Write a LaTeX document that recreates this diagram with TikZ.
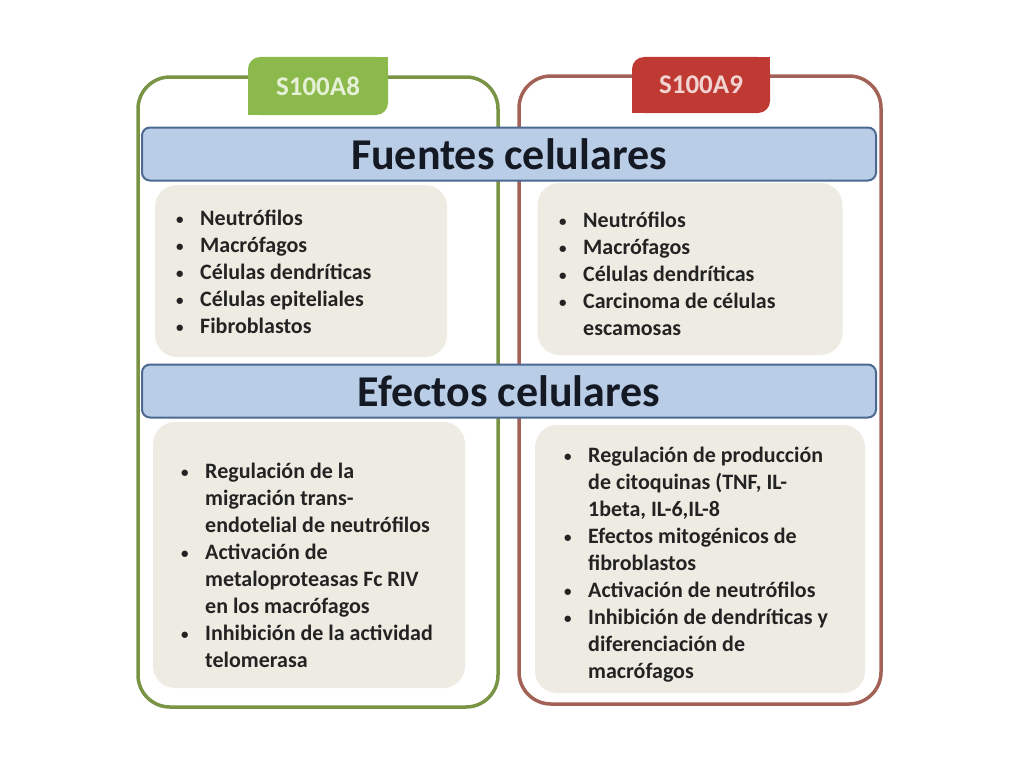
\documentclass[tikz,border=0pt]{standalone}
\usepackage{fontspec}
\setmainfont{Carlito}

\definecolor{greenline}{RGB}{122,148,70}
\definecolor{redline}{RGB}{163,98,88}
\definecolor{tabgreen}{RGB}{140,185,75}
\definecolor{tabred}{RGB}{192,58,52}
\definecolor{barfill}{RGB}{185,205,230}
\definecolor{barline}{RGB}{75,105,145}
\definecolor{cardfill}{RGB}{238,236,226}
\definecolor{titletext}{RGB}{20,25,35}
\definecolor{bodytext}{RGB}{35,35,35}

\newcommand{\bu}{\makebox[24pt][l]{\raisebox{1pt}{\fontsize{15}{15}\selectfont\textbullet}}}
\newcommand{\ind}{\hspace*{24pt}}

\begin{document}
\begin{tikzpicture}[x=1pt,y=-1pt,
  outerbox/.style={draw=#1,line width=3.5pt,rounded corners=32pt,fill=white,inner sep=0pt},
  tab/.style={fill=#1,rounded corners=12pt,inner sep=0pt,font=\fontsize{27}{30}\selectfont\bfseries},
  bar/.style={draw=barline,fill=barfill,line width=2pt,rounded corners=8pt,minimum width=734pt,minimum height=53pt,inner sep=0pt,text=titletext,font=\fontsize{44}{50}\selectfont\bfseries},
  card/.style={fill=cardfill,rounded corners=22pt,inner sep=0pt},
  list/.style={anchor=base west,align=left,inner sep=0pt,text=bodytext,font=\fontsize{22}{27}\selectfont\bfseries}]

  \useasboundingbox[fill=white] (0,0) rectangle (1024,768);

  % Specification of frames (position, etc.)
  \node[outerbox=greenline,minimum width=360pt,minimum height=630pt] (boxA) at (318,392) {};
  \node[outerbox=redline,minimum width=362pt,minimum height=628pt] (boxB) at (700,390) {};

  % Tabs
  \node[tab=tabgreen,text=white!78!tabgreen,minimum width=140pt,minimum height=58pt] (tabA) at (318,86) {S100A8};
  \fill[tabgreen] (tabA.north east) rectangle ++(-14,14);
  \fill[tabgreen] (tabA.south west) rectangle ++(14,-14);
  \node[tab=tabred,text=white!78!tabred,minimum width=138pt,minimum height=56pt] (tabB) at (701,85) {S100A9};
  \fill[tabred] (tabB.north east) rectangle ++(-14,14);
  \fill[tabred] (tabB.south west) rectangle ++(14,-14);

  % Bars
  \node[bar] (srcbar) at (509,154) {Fuentes celulares};
  \node[bar] (effbar) at (509,391) {Efectos celulares};

  % Cards
  \node[card,minimum width=292pt,minimum height=172pt] (srcA) at (301,271) {};
  \node[card,minimum width=305pt,minimum height=172pt] (srcB) at (690,269) {};
  \node[card,minimum width=312pt,minimum height=266pt] (effA) at (309,555) {};
  \node[card,minimum width=330pt,minimum height=268pt] (effB) at (700,559) {};

  % Texts (anchored at the base of the last line)
  \node[list] (srcAtxt) at (176,333) {\bu Neutrófilos\\ \bu Macrófagos\\ \bu Células dendríticas\\ \bu Células epiteliales\\ \bu Fibroblastos};
  \node[list] (srcBtxt) at (559,335) {\bu Neutrófilos\\ \bu Macrófagos\\ \bu Células dendríticas\\ \bu Carcinoma de células\\ \ind escamosas};
  \node[list] (effAtxt) at (181,667) {\bu Regulación de la\\ \ind migración trans-\\ \ind endotelial de neutrófilos\\ \bu Activación de\\ \ind metaloproteasas Fc RIV\\ \ind en los macrófagos\\ \bu Inhibición de la actividad\\ \ind telomerasa};
  \node[list] (effBtxt) at (564,678) {\bu Regulación de producción\\ \ind de citoquinas (TNF, IL-\\ \ind 1beta, IL-6,IL-8\\ \bu Efectos mitogénicos de\\ \ind fibroblastos\\ \bu Activación de neutrófilos\\ \bu Inhibición de dendríticas y\\ \ind diferenciación de\\ \ind macrófagos};

\end{tikzpicture}
\end{document}
